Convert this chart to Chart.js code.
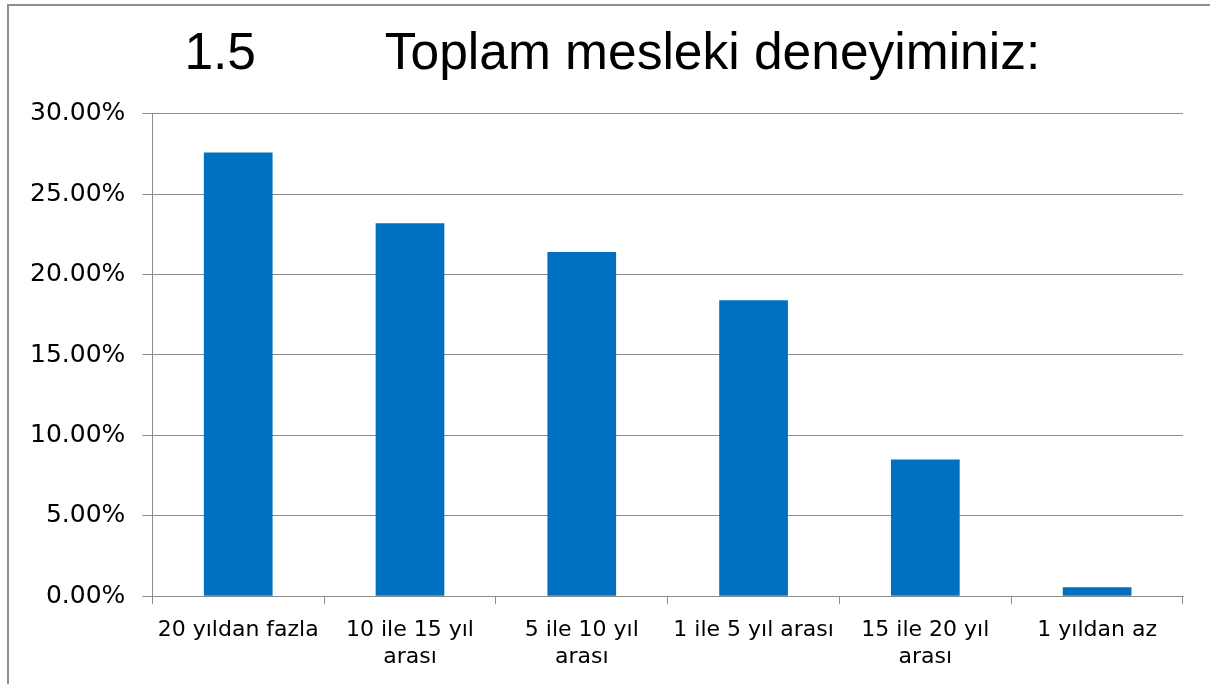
<!DOCTYPE html>
<html>
<head>
<meta charset="utf-8">
<script src="https://cdn.jsdelivr.net/npm/chart.js@4"></script>
<style>
  html, body { margin: 0; padding: 0; background: #fff; overflow: hidden; }
  #wrap { position: absolute; left: 0; top: 0; width: 1210px; height: 684px; }
  #frame { position: absolute; left: 7px; top: 4px; width: 1300px; height: 800px;
           border-left: 2px solid #8e8e8e; border-top: 2px solid #8e8e8e; pointer-events: none; }
</style>
</head>
<body>
<div id="wrap"><canvas id="myChart" width="1210" height="684"></canvas></div>
<div id="frame"></div>
<script>
var categories = [
  ['20 yıldan fazla'],
  ['10 ile 15 yıl', 'arası'],
  ['5 ile 10 yıl', 'arası'],
  ['1 ile 5 yıl arası'],
  ['15 ile 20 yıl', 'arası'],
  ['1 yıldan az']
];
var values = [27.6, 23.2, 21.4, 18.4, 8.5, 0.55];
var yTicks = [0, 5, 10, 15, 20, 25, 30];
var titleText = '  1.5         Toplam mesleki deneyiminiz:';

var gridColor = '#8c8c8c';

var ctx = document.getElementById('myChart').getContext('2d');
var myChart = new Chart(ctx, {
  type: 'bar',
  data: {
    labels: categories,
    datasets: [{
      label: 'Toplam mesleki deneyiminiz',
      data: values,
      backgroundColor: '#0070C0',
      categoryPercentage: 1,
      barPercentage: 0.4
    }]
  },
  options: {
    responsive: false,
    animation: false,
    layout: { padding: { left: 13, right: 27, top: 0, bottom: 1 } },
    plugins: {
      legend: { display: false },
      tooltip: { enabled: false },
      title: {
        display: true,
        text: titleText,
        color: '#000',
        font: { family: '"Liberation Sans", Arial, sans-serif', size: 51.5, weight: 'normal', lineHeight: 1.2 },
        padding: { top: 23.5, bottom: 28.5 }
      }
    },
    scales: {
      x: {
        grid: { display: true, drawOnChartArea: false, drawTicks: true, tickLength: 8, color: gridColor, offset: true },
        border: { display: true, color: gridColor, width: 1 },
        ticks: {
          color: '#000',
          autoSkip: false,
          maxRotation: 0,
          padding: 13,
          font: { family: '"DejaVu Sans", Verdana, sans-serif', size: 22, lineHeight: 1.2 }
        }
      },
      y: {
        min: 0,
        max: 30,
        afterBuildTicks: function (axis) {
          axis.ticks = yTicks.map(function (v) { return { value: v }; });
        },
        grid: { color: gridColor, tickLength: 10, lineWidth: 1 },
        border: { display: true, color: gridColor, width: 1 },
        ticks: {
          color: '#000',
          padding: 17,
          font: { family: '"DejaVu Sans", Verdana, sans-serif', size: 25 },
          callback: function (v) { return v.toFixed(2) + '%'; }
        }
      }
    }
  }
});
</script>
</body>
</html>
